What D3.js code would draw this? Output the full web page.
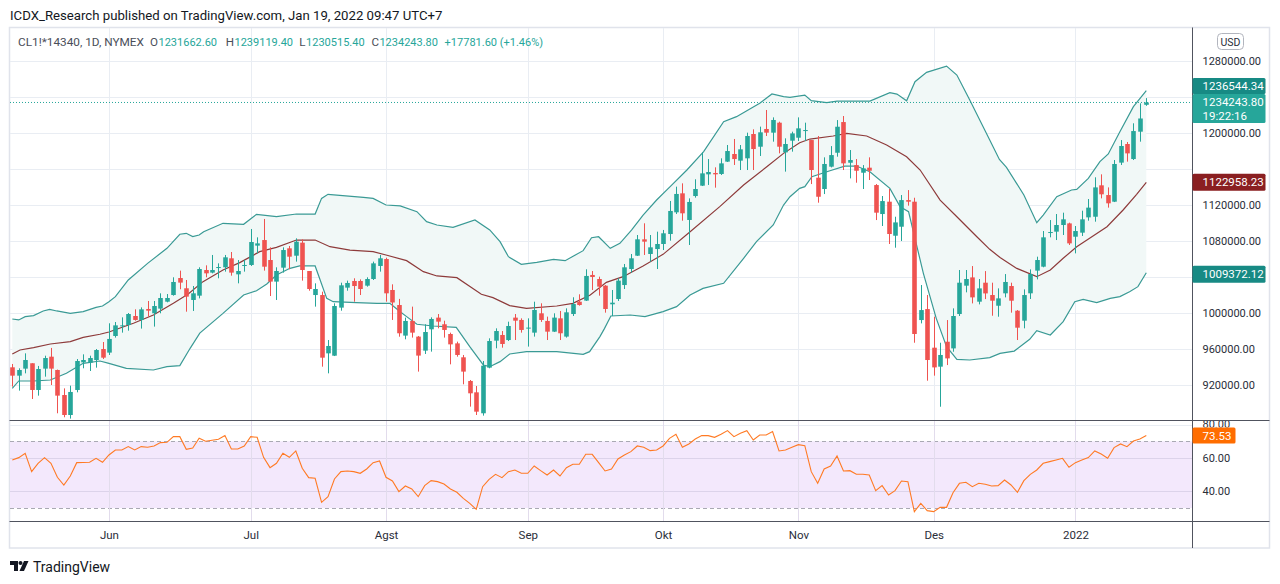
<!DOCTYPE html>
<html>
<head>
<meta charset="utf-8">
<script src="https://cdn.jsdelivr.net/npm/d3@7/dist/d3.min.js"></script>
<style>
html,body{margin:0;padding:0;background:#fff;}
svg{display:block;}
text{font-family:Roboto,"Noto Sans",Arial,sans-serif;}
</style>
</head>
<body>
<svg id="chart" width="1280" height="584"></svg>
<script>
// ---- DATA (prices in thousands of USD, one entry per daily bar) ----
const openK=[940.0,930.7,938.5,944.5,914.8,938.5,951.8,937.0,909.2,887.0,
914.8,945.5,945.2,948.1,960.3,956.3,974.8,985.9,987.0,997.0,
992.6,1004.8,1000.0,1005.2,1012.9,1020.3,1039.2,1027.8,1014.8,1019.6,
1048.1,1045.2,1050.7,1051.1,1061.1,1043.3,1052.9,1053.7,1075.2,1081.4,
1059.2,1035.2,1050.7,1072.2,1064.0,1078.5,1047.0,1020.3,1020.3,955.5,
952.9,1006.3,1028.5,1035.9,1035.9,1030.7,1038.1,1052.6,1060.3,1025.9,
1009.2,975.2,991.5,974.1,958.5,982.2,995.2,987.8,977.0,966.6,
951.1,924.8,912.2,888.9,939.6,969.6,975.9,970.3,995.2,992.6,
983.3,978.5,1000.0,991.5,979.6,994.4,974.1,999.2,1012.9,1014.1,
1042.6,1038.1,1030.7,1010.0,1015.9,1031.4,1049.2,1064.0,1082.2,1065.9,
1071.4,1077.0,1088.1,1112.2,1133.3,1103.7,1130.3,1141.8,1154.4,1155.9,
1154.8,1168.5,1177.0,1169.6,1172.2,1199.2,1185.1,1204.8,1200.7,1211.8,
1178.8,1191.8,1195.1,1202.9,1192.5,1150.7,1138.1,1162.9,1178.4,1212.5,
1167.3,1164.7,1156.2,1161.8,1142.5,1110.3,1124.0,1086.2,1096.2,1125.8,
1124.0,992.5,1004.7,961.8,940.7,968.4,961.0,999.2,1030.7,1039.9,
1012.9,1034.0,1020.3,1008.4,1022.2,1030.3,1002.9,991.8,1022.2,1047.4,
1051.8,1089.6,1090.7,1098.1,1099.9,1085.1,1089.6,1106.6,1107.3,1142.2,
1131.4,1124.0,1167.4,1188.1,1171.4,1201.8,1231.6626];
const highK=[943.7,938.9,955.5,944.5,941.5,952.9,961.5,937.5,916.6,919.6,
949.2,954.4,952.9,960.3,968.1,988.9,990.3,995.5,1000.3,1004.4,
1006.6,1013.7,1013.7,1022.2,1021.4,1040.0,1047.4,1037.0,1030.3,1051.1,
1053.3,1064.8,1055.5,1064.8,1068.1,1059.2,1059.2,1093.7,1084.4,1104.8,
1073.3,1051.1,1073.3,1074.8,1083.3,1082.2,1047.0,1033.3,1024.0,970.3,
1011.1,1034.0,1036.3,1038.9,1037.7,1040.0,1057.4,1064.8,1061.8,1032.2,
1016.0,995.2,1007.4,974.8,987.8,995.5,999.2,991.8,978.5,968.5,
953.7,925.9,919.2,947.0,972.2,983.3,980.3,990.7,999.2,994.4,
994.4,1012.9,1011.1,996.3,1000.0,1002.6,1005.5,1017.8,1021.1,1048.9,
1047.0,1040.7,1031.4,1025.9,1038.9,1054.8,1065.9,1087.0,1100.0,1087.0,
1090.7,1092.6,1124.8,1140.7,1144.4,1127.7,1148.9,1178.8,1171.4,1162.2,
1172.2,1187.0,1193.7,1187.0,1200.7,1204.4,1207.4,1225.9,1217.7,1212.9,
1194.4,1201.8,1217.7,1211.8,1192.5,1197.0,1173.3,1185.8,1214.7,1219.2,
1181.4,1171.4,1164.7,1173.3,1143.6,1130.3,1138.1,1107.3,1131.4,1136.9,
1128.4,1031.4,1020.3,996.2,967.3,992.5,1005.5,1048.1,1048.1,1052.5,
1038.1,1046.9,1034.0,1027.7,1043.6,1034.0,1003.6,1026.6,1048.8,1062.9,
1091.4,1103.6,1110.3,1111.8,1100.7,1097.0,1114.0,1127.0,1151.1,1154.4,
1139.9,1170.3,1192.5,1190.3,1211.1,1233.3,1239.1194];
const lowK=[918.5,914.1,933.3,904.8,908.5,929.6,920.3,888.9,884.5,883.0,
912.2,938.9,935.9,939.6,949.2,953.7,973.0,978.5,980.7,991.8,
983.0,996.3,985.2,1000.0,1012.2,1019.6,1026.7,1001.8,1002.6,1016.6,
1040.0,1044.4,1038.9,1046.3,1041.8,1033.3,1046.3,1052.6,1066.6,1047.4,
1019.2,1014.8,1045.2,1048.9,1057.4,1036.3,1025.1,1007.4,940.7,933.3,
952.5,1002.9,1025.1,1012.9,1020.3,1029.6,1037.0,1046.3,1012.9,992.6,
974.0,971.1,973.0,935.2,954.8,957.4,983.3,973.0,943.3,951.8,
921.1,896.3,887.0,886.3,938.9,961.1,961.8,969.2,970.3,978.5,
963.0,974.1,990.4,970.3,979.2,970.3,973.0,997.0,1008.5,1013.7,
1025.9,1019.6,1000.7,997.0,1013.7,1027.0,1045.2,1063.7,1064.8,1057.4,
1049.2,1070.3,1080.7,1110.3,1102.9,1075.9,1128.5,1141.4,1142.6,1139.6,
1153.7,1168.1,1164.8,1159.2,1159.2,1159.2,1174.8,1197.0,1190.7,1177.7,
1157.4,1179.6,1191.4,1191.4,1143.6,1122.9,1132.5,1162.1,1174.0,1159.2,
1149.9,1145.1,1138.1,1148.1,1103.6,1097.0,1077.0,1072.9,1080.3,1119.6,
967.3,988.8,925.1,930.7,896.2,942.5,957.3,997.0,1023.3,1011.0,
1009.9,1015.8,997.3,996.2,1017.7,1000.7,970.3,983.3,1015.9,1037.7,
1051.1,1084.4,1081.4,1087.0,1075.9,1066.6,1085.9,1102.9,1101.8,1127.7,
1117.4,1123.6,1164.8,1168.5,1170.3,1190.7,1230.5154];
const closeK=[930.7,937.0,948.1,914.8,938.1,950.3,938.5,908.5,887.0,912.6,
947.0,948.1,950.3,959.2,950.7,971.5,986.6,986.6,999.2,992.6,
1004.4,1002.9,1008.1,1017.0,1017.0,1034.8,1034.1,1018.5,1022.2,1049.2,
1044.4,1048.1,1051.4,1062.2,1045.2,1047.0,1053.7,1079.2,1077.7,1051.8,
1035.2,1047.0,1070.3,1062.9,1079.6,1048.1,1027.0,1027.0,950.7,963.7,
1008.1,1031.1,1033.7,1030.3,1027.0,1038.1,1055.5,1061.1,1022.2,1012.0,
977.8,991.5,978.5,953.0,979.2,993.7,990.7,981.5,965.5,953.7,
935.2,911.1,890.7,941.8,969.2,980.3,965.9,985.9,991.8,981.5,
984.1,1003.7,992.6,979.6,995.2,977.8,1001.1,1010.3,1009.2,1041.5,
1040.3,1029.6,1004.8,1011.8,1036.3,1051.1,1061.1,1082.2,1079.6,1073.3,
1077.0,1088.9,1113.7,1132.6,1111.1,1123.7,1138.1,1155.5,1157.0,1154.4,
1166.6,1180.3,1171.4,1182.2,1197.0,1182.5,1201.1,1200.7,1214.8,1185.1,
1188.1,1199.9,1205.5,1203.6,1159.2,1129.5,1165.9,1175.8,1207.3,1166.6,
1170.3,1158.4,1161.0,1158.4,1111.8,1124.7,1088.1,1101.0,1125.8,1124.0,
977.0,1003.6,948.1,939.9,953.7,949.9,997.0,1034.0,1038.1,1017.7,
1027.7,1022.1,1014.0,1016.6,1034.8,1014.0,984.0,1020.3,1043.6,1059.2,
1084.4,1090.3,1098.1,1104.4,1077.7,1091.4,1104.4,1117.4,1139.9,1132.2,
1122.2,1165.9,1185.9,1177.7,1202.5,1216.4622,1234.2438];
const rsiVals=[58.8,60.2,62.8,51.8,56.8,60.2,56.8,48.4,43.8,49.2,
57.2,57.3,57.4,59.8,57.4,61.8,64.8,64.8,66.8,64.8,
66.8,66.4,67.2,69.2,69.4,72.8,72.8,65.2,66.0,71.8,
70.0,70.6,71.2,73.4,65.4,65.4,67.2,72.8,72.4,60.4,
54.2,56.8,62.8,60.4,64.2,53.8,48.2,47.8,33.4,36.8,
47.4,51.8,52.2,51.8,50.8,53.4,57.2,58.2,48.4,46.2,
39.8,43.2,41.4,36.8,43.4,46.4,45.8,44.4,41.4,39.4,
35.8,32.8,29.2,42.8,47.2,50.2,48.2,51.8,52.8,50.8,
50.8,55.2,52.4,49.8,52.8,49.2,54.2,56.2,56.2,62.2,
62.2,57.2,52.2,53.4,59.4,61.8,63.8,67.2,66.4,64.4,
64.8,67.2,71.8,74.2,66.4,68.4,71.4,73.4,73.4,72.4,
74.2,76.4,72.8,74.8,76.4,70.8,73.8,73.8,75.8,64.2,
64.8,66.4,68.0,67.4,51.8,44.8,53.4,55.2,61.2,52.2,
52.4,50.2,50.2,49.8,40.4,43.4,37.8,40.4,46.2,45.8,
27.8,32.8,28.4,27.8,30.4,30.4,39.2,44.8,45.4,42.8,
44.8,44.2,43.2,43.4,46.8,43.8,39.4,46.4,50.2,52.8,
56.8,57.8,58.8,59.8,54.4,57.2,58.8,60.2,64.2,62.4,
59.8,66.2,68.4,66.8,70.2,71.4,73.53];
// Bollinger band lines as drawn, read as [bar index, price K]
const upperBand=[[0,993.7],[1,992.6],[2,996.3],[3.3,997.4],[4.8,1002.6],[5.8,1004.4],[6.9,1002.6],[9,1000.0],[11,1001.8],[13,1006.6],[14,1008.1],[15,1012.9],[16,1018.5],[18,1037.0],[21,1055.5],[24,1072.2],[26,1087.8],[27,1088.9],[28,1085.2],[29,1087.0],[29.7,1090.7],[32.7,1100.0],[35.9,1098.9],[37.9,1110.0],[41,1107.4],[44.1,1110.3],[47,1110.3],[48,1127.7],[49,1132.2],[54.5,1128.9],[56,1127.7],[58,1120.3],[60.2,1119.4],[62.8,1112.9],[64.3,1101.8],[65.9,1098.1],[68.4,1095.5],[71.8,1103.7],[74.1,1092.6],[75.7,1079.6],[77,1062.9],[79,1054.4],[81.4,1056.6],[84,1060.0],[85.8,1058.5],[88.6,1069.6],[89.9,1084.0],[91,1085.1],[92.8,1072.2],[94.3,1077.7],[96.1,1092.5],[97.9,1109.2],[100,1125.9],[102.1,1140.7],[104.7,1159.2],[107.3,1179.6],[110.4,1212.9],[112.4,1218.5],[116,1233.3],[117.9,1243.7],[119.7,1240.7],[120.7,1239.9],[123,1242.5],[124,1236.2],[126.4,1234.0],[128,1235.8],[133.1,1235.8],[136.2,1245.1],[137.3,1243.6],[138.8,1236.2],[140.1,1257.3],[141.9,1267.7],[145,1274.7],[146.6,1264.7],[148.6,1237.0],[151.7,1192.5],[153.2,1170.9],[154.3,1162.2],[157,1131.4],[159,1100.7],[160,1109.2],[162.1,1129.6],[164.4,1137.0],[165.2,1137.7],[167,1149.9],[168.8,1168.5],[170.1,1177.0],[171.9,1201.8],[174,1229.6],[176,1247.4]];
const middleBand=[[0,954.8],[1.2,959.2],[3.3,961.8],[5.9,965.9],[9,968.5],[11,973.3],[13.6,976.7],[15,979.2],[18.8,988.9],[21.9,998.1],[25,1011.1],[27.3,1021.5],[29.6,1035.2],[32.7,1048.1],[35.3,1056.3],[38.4,1068.5],[41,1073.3],[44.1,1081.4],[47,1081.4],[49.3,1074.0],[52.4,1070.3],[56,1068.5],[58,1064.8],[61.2,1058.5],[63.8,1046.3],[65.9,1041.5],[69,1039.6],[72.8,1021.1],[74.6,1017.4],[77.2,1008.5],[79.8,1005.5],[84.5,1008.1],[87,1011.1],[89.7,1020.3],[92.2,1034.4],[94.8,1040.7],[97.9,1052.5],[101,1065.5],[105.2,1090.7],[109.8,1118.5],[113.5,1142.5],[117.1,1162.9],[119.7,1177.7],[122.2,1189.5],[123.8,1193.6],[127.4,1197.0],[129.5,1199.9],[132.6,1197.0],[135.7,1187.0],[138.8,1174.0],[140.9,1159.2],[144,1125.8],[146.6,1107.3],[149.7,1085.1],[151.7,1071.1],[153.3,1062.0],[155.9,1049.9],[159,1040.7],[161.1,1048.1],[163.1,1061.1],[165.2,1074.0],[167.2,1083.3],[169.9,1096.2],[172.4,1114.8],[174.5,1132.2],[176,1145.5]];
const lowerBand=[[0,916.6],[1,924.8],[3.3,924.8],[5.9,925.9],[8.4,933.3],[11,944.4],[13.6,947.0],[15,944.4],[17.7,938.9],[21.9,937.0],[24,940.7],[26,941.8],[27.6,961.1],[29.1,978.0],[32.7,999.9],[35.9,1020.3],[37.9,1025.1],[39.5,1032.6],[41,1042.6],[43.1,1050.0],[44.6,1052.6],[47,1052.6],[48.8,1016.6],[49.8,1012.9],[53.4,1011.8],[56.6,1011.1],[58.6,1011.1],[60.2,1001.8],[61.2,996.3],[62.8,987.8],[65.3,985.9],[68.9,984.4],[71,962.9],[73.1,942.6],[74.1,940.7],[75.7,946.3],[77.2,954.8],[79.8,957.4],[84.5,957.4],[88.6,954.4],[89.6,957.4],[91.2,974.1],[91.9,983.0],[92.9,997.0],[95.9,998.1],[98.2,996.3],[101,1001.8],[103.1,1007.4],[105.2,1020.3],[107.2,1027.7],[110.4,1033.3],[113.5,1061.1],[115.5,1079.6],[118.1,1098.1],[119.7,1120.3],[120.7,1129.5],[122.2,1138.8],[123,1140.7],[124.1,1151.8],[126.9,1158.4],[129.2,1163.6],[131,1163.6],[133.1,1157.3],[136.2,1138.8],[137.8,1118.4],[139.1,1112.9],[141.4,1044.4],[143.4,994.4],[145,962.9],[146.6,948.8],[148.6,948.1],[151.7,950.7],[153.3,955.5],[155.5,958.0],[157.9,971.1],[159,980.7],[161.1,975.9],[163.1,990.7],[164.9,1012.9],[166.2,1015.5],[168.3,1011.8],[170.4,1016.6],[171.9,1018.5],[173.4,1024.0],[174.7,1029.6],[176,1045.1]];
const monthIdx=[15,37,58,80,101,122,143,165];
const monthLabels=["Jun","Jul","Agst","Sep","Okt","Nov","Des","2022"];
const priceTicksK=[920,960,1000,1040,1080,1120,1160,1200,1240,1280];
const rsiTicks=[80,60,40];
const rsiLevels=[70,30];
const bandLabels=["1236544.34","1122958.23","1009372.12"];
const countdown="19:22:16";
const titleText="ICDX_Research published on TradingView.com, Jan 19, 2022 09:47 UTC+7";
const symbolText="CL1!*14340, 1D, NYMEX";

// ---- LAYOUT ----
const svg=d3.select('#chart');
const L=10, R=1192.5, mainTop=28, mainBot=420.5, rsiTop=421, rsiBot=521;
const UP="#26a69a", DOWN="#ef5350", TXT="#2a2e39";
const x=d3.scaleLinear().domain([0,176]).range([12.3,1146.3]);
const y=d3.scaleLinear().domain([1000,1280]).range([313.3,61.3]);
const yr=d3.scaleLinear().domain([30,70]).range([508,441.3]);
const fmtP=v=>(v*1000).toFixed(2);
const last=closeK.length-1;

const defs=svg.append('defs');
defs.append('clipPath').attr('id','mainClip').append('rect').attr('x',L).attr('y',mainTop).attr('width',R-L).attr('height',mainBot-mainTop);
defs.append('clipPath').attr('id','rsiClip').append('rect').attr('x',L).attr('y',rsiTop).attr('width',R-L).attr('height',rsiBot-rsiTop);
defs.append('clipPath').attr('id','rsiAxClip').append('rect').attr('x',R).attr('y',rsiTop).attr('width',90).attr('height',rsiBot-rsiTop);

// title
svg.append('text').attr('x',10).attr('y',15).attr('dominant-baseline','central')
  .attr('font-size',13.2).attr('fill','#131722').text(titleText);

// frame
svg.append('rect').attr('x',9.5).attr('y',27.5).attr('width',1260).attr('height',520.5)
  .attr('fill','none').attr('stroke','#e0e3eb').attr('stroke-width',1.5);

// grid
const grid=svg.append('g');
grid.selectAll('line.h').data(priceTicksK).join('line')
  .attr('x1',L).attr('x2',R).attr('y1',d=>Math.round(y(d))+0.5).attr('y2',d=>Math.round(y(d))+0.5)
  .attr('stroke','#e9edf3');
grid.selectAll('line.v').data(monthIdx).join('line')
  .attr('x1',d=>Math.round(x(d))+0.5).attr('x2',d=>Math.round(x(d))+0.5).attr('y1',mainTop).attr('y2',rsiBot)
  .attr('stroke','#e9edf3');

// RSI background
const rsiG=svg.append('g').attr('clip-path','url(#rsiClip)');
rsiG.append('rect').attr('x',L).attr('width',R-L).attr('y',yr(70)).attr('height',yr(30)-yr(70)).attr('fill','#f3e8fc');
rsiG.selectAll('line.g').data(rsiTicks).join('line')
  .attr('x1',L).attr('x2',R).attr('y1',d=>Math.round(yr(d))+0.5).attr('y2',d=>Math.round(yr(d))+0.5)
  .attr('stroke',d=>d===80?'#e9edf3':'#dcd3ea');
rsiG.selectAll('line.lv').data(rsiLevels).join('line')
  .attr('x1',L).attr('x2',R).attr('y1',d=>Math.round(yr(d))+0.5).attr('y2',d=>Math.round(yr(d))+0.5)
  .attr('stroke','#a9a9b3').attr('stroke-dasharray','4,3');
rsiG.selectAll('line.vv').data(monthIdx).join('line')
  .attr('x1',d=>Math.round(x(d))+0.5).attr('x2',d=>Math.round(x(d))+0.5).attr('y1',rsiTop).attr('y2',rsiBot)
  .attr('stroke','#e2dcec');
const rsiLine=d3.line().x((d,i)=>x(i)).y(d=>yr(d));
rsiG.append('path').attr('d',rsiLine(rsiVals)).attr('fill','none').attr('stroke','#ff7a24').attr('stroke-width',1.1);

// main pane
const mg=svg.append('g').attr('clip-path','url(#mainClip)');
const bl=d3.line().x(d=>x(d[0])).y(d=>y(d[1]));
mg.append('path').attr('d',bl(upperBand.concat(lowerBand.slice().reverse()))+'Z').attr('fill','#f1f8f7');
mg.append('path').attr('d',bl(upperBand)).attr('fill','none').attr('stroke','#3a9a95').attr('stroke-width',1.2);
mg.append('path').attr('d',bl(lowerBand)).attr('fill','none').attr('stroke','#3a9a95').attr('stroke-width',1.2);
mg.append('path').attr('d',bl(middleBand)).attr('fill','none').attr('stroke','#8e3b3b').attr('stroke-width',1.2);

const idx=d3.range(closeK.length);
const col=i=>closeK[i]>=openK[i]?UP:DOWN;
mg.selectAll('line.wick').data(idx).join('line')
  .attr('x1',i=>Math.round(x(i))+0.5).attr('x2',i=>Math.round(x(i))+0.5)
  .attr('y1',i=>y(highK[i])).attr('y2',i=>y(lowK[i])).attr('stroke',col);
const bw=4.6;
mg.selectAll('rect.body').data(idx).join('rect')
  .attr('x',i=>Math.round(x(i))+0.5-bw/2).attr('width',bw)
  .attr('y',i=>y(Math.max(openK[i],closeK[i])))
  .attr('height',i=>Math.max(1,Math.abs(y(openK[i])-y(closeK[i]))))
  .attr('fill',col);

// current price dotted line
const yPrice=y(closeK[last]);
mg.append('line').attr('x1',L).attr('x2',R).attr('y1',yPrice).attr('y2',yPrice)
  .attr('stroke',UP).attr('stroke-dasharray','1,2');

// separators
svg.append('line').attr('x1',9.5).attr('x2',1269.5).attr('y1',mainBot).attr('y2',mainBot).attr('stroke','#50535e');
svg.append('line').attr('x1',9.5).attr('x2',1269.5).attr('y1',rsiBot+0.5).attr('y2',rsiBot+0.5).attr('stroke','#50535e');
svg.append('line').attr('x1',R).attr('x2',R).attr('y1',27.5).attr('y2',548).attr('stroke','#50535e');

// label box positions (price scale markers)
const curTop=yPrice-8.5;
const yCur=curTop+14.5;
const yUp=Math.min(y(upperBand[upperBand.length-1][1]),curTop-8);
const yMid=y(middleBand[middleBand.length-1][1]);
const yLow=y(lowerBand[lowerBand.length-1][1])+1.5;
const boxSpans=[[curTop,curTop+29],[yUp-8,yUp+8],[yMid-8.5,yMid+8.5],[yLow-8.5,yLow+8.5]];
const visibleTicks=priceTicksK.filter(v=>!boxSpans.some(s=>y(v)>s[0]-6 && y(v)<s[1]+6));

// price axis
const pAx=svg.append('g').attr('transform',`translate(${R},0)`)
  .call(d3.axisRight(y).tickValues(visibleTicks).tickSize(0).tickPadding(10).tickFormat(fmtP));
pAx.select('.domain').remove();
pAx.selectAll('text').attr('font-size',11).attr('fill',TXT).attr('font-family','Roboto,sans-serif');

// rsi axis (80 is mostly hidden by pane edge and the RSI marker)
defs.append('clipPath').attr('id','rsiTopClip').append('rect').attr('x',R).attr('y',rsiTop).attr('width',90).attr('height',yr(rsiVals[last])-8-rsiTop);
const rAx=svg.append('g').attr('clip-path','url(#rsiAxClip)').append('g').attr('transform',`translate(${R},0)`)
  .call(d3.axisRight(yr).tickValues(rsiTicks).tickSize(0).tickPadding(10).tickFormat(d=>d.toFixed(2)));
rAx.select('.domain').remove();
rAx.selectAll('text').attr('font-size',11).attr('fill',TXT).attr('font-family','Roboto,sans-serif');
rAx.selectAll('.tick').filter(d=>d===80).remove();
svg.append('g').attr('clip-path','url(#rsiTopClip)').append('text')
  .attr('x',R+10).attr('y',yr(80)).attr('dy','0.32em').attr('font-size',11).attr('fill',TXT).text(rsiTicks[0].toFixed(2));

// time axis
const tAx=svg.append('g').attr('transform',`translate(0,${rsiBot})`)
  .call(d3.axisBottom(x).tickValues(monthIdx).tickSize(0).tickPadding(10).tickFormat((d,i)=>monthLabels[i]));
tAx.select('.domain').remove();
tAx.selectAll('text').attr('font-size',11.5).attr('fill',TXT).attr('font-family','Roboto,sans-serif');

// USD badge
svg.append('rect').attr('x',1217.5).attr('y',33.5).attr('width',26).attr('height',16).attr('rx',4)
  .attr('fill','#fff').attr('stroke','#b2b5be');
svg.append('text').attr('x',1230.5).attr('y',42).attr('text-anchor','middle').attr('dominant-baseline','central')
  .attr('font-size',10.5).attr('fill',TXT).text('USD');

// label boxes
function box(cy,h,w,fill,lines){
  const g=svg.append('g');
  g.append('rect').attr('x',R).attr('y',cy-h/2).attr('width',w).attr('height',h).attr('rx',1.5).attr('fill',fill);
  lines.forEach((t,k)=>{
    g.append('text').attr('x',R+10).attr('y',cy-h/2+8.5+k*13.5).attr('dominant-baseline','central')
      .attr('font-size',11.5).attr('fill','#fff').attr('font-family','Roboto,sans-serif').text(t);
  });
}
box(yCur,29,73,'#26a69a',[fmtP(closeK[last]),countdown]);
box(yUp,16,73,'#178a84',[bandLabels[0]]);
box(yMid,17,73,'#8a1f21',[bandLabels[1]]);
box(yLow,17,73,'#178a84',[bandLabels[2]]);
box(yr(rsiVals[last]),16,43,'#ff6d00',[rsiVals[last].toFixed(2)]);

// legend
const chg=(closeK[last]-closeK[last-1])*1000;
const pct=chg/(closeK[last-1]*1000)*100;
const legendX=[18,150,225.7,299.3,371.4,444.6];
const legendParts=[[null,symbolText],['O',fmtP(openK[last])],['H',fmtP(highK[last])],['L',fmtP(lowK[last])],['C',fmtP(closeK[last])],[null,`+${chg.toFixed(2)} (+${pct.toFixed(2)}%)`]];
legendParts.forEach((p,k)=>{
  const t=svg.append('text').attr('x',legendX[k]).attr('y',42).attr('dominant-baseline','central').attr('font-size',k===0?11.8:11);
  if(p[0]){t.append('tspan').attr('fill','#4a4e59').attr('font-size',11.6).text(p[0]);t.append('tspan').attr('dx',0.5).attr('fill',UP).text(p[1]);}
  else t.append('tspan').attr('fill',k===0?'#4a4e59':UP).text(p[1]);
});

// footer logo
const lo=svg.append('g').attr('transform','translate(10,561)').attr('fill','#131722');
lo.append('path').attr('d','M0,0H8V10H4V4H0Z');
lo.append('circle').attr('cx',10.5).attr('cy',2).attr('r',2);
lo.append('path').attr('d','M14,0H18.5L14,10H9.5Z');
svg.append('text').attr('x',33).attr('y',566.5).attr('dominant-baseline','central')
  .attr('font-size',14).attr('fill','#131722').text('TradingView');
</script>
</body>
</html>
